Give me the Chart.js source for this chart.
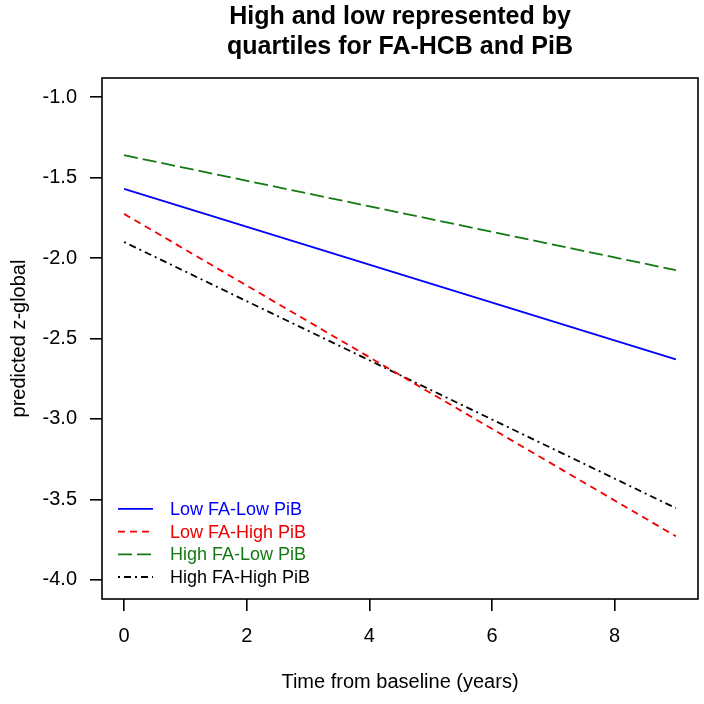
<!DOCTYPE html>
<html>
<head>
<meta charset="utf-8">
<script src="https://cdn.jsdelivr.net/npm/chart.js@4.4.1/dist/chart.umd.min.js"></script>
<style>
  html, body { margin: 0; padding: 0; background: #fff; }
  #wrap { width: 704px; height: 704px; }
</style>
</head>
<body>
<div id="wrap"><canvas id="myChart" width="704" height="704"></canvas></div>
<script>
// time points (years from baseline)
var years = [0, 9];

// predicted z-global at start and end of follow-up
var lowFaLowPib   = [-1.57, -2.63];
var lowFaHighPib  = [-1.725, -3.73];
var highFaLowPib  = [-1.36, -2.075];
var highFaHighPib = [-1.90, -3.555];

var seriesNames = ['Low FA-Low PiB', 'Low FA-High PiB', 'High FA-Low PiB', 'High FA-High PiB'];

var xTicks = [0, 2, 4, 6, 8];
var yTicks = [-1.0, -1.5, -2.0, -2.5, -3.0, -3.5, -4.0];

var FONT = "'Liberation Sans', Arial, Helvetica, sans-serif";

function toPoints(vals) {
	return years.map(function (t, i) { return { x: t, y: vals[i] }; });
}

function makeSet(name, vals, color, dash) {
	return {
		label: name,
		data: toPoints(vals),
		borderColor: color,
		backgroundColor: color,
		borderWidth: 1.8,
		borderDash: dash,
		pointRadius: 0,
		fill: false,
		tension: 0
	};
}

// R style box round the plot region
var boxPlugin = {
	id: 'plotBox',
	afterDatasetsDraw: function (chart) {
		var a = chart.chartArea, ctx = chart.ctx;
		ctx.save();
		ctx.strokeStyle = '#000';
		ctx.lineWidth = 1.6;
		ctx.strokeRect(a.left, a.top, a.right - a.left, a.bottom - a.top);
		ctx.restore();
	}
};

// legend inside the plot, bottom left, no frame, coloured text
var insetLegend = {
	id: 'insetLegend',
	afterDraw: function (chart) {
		var a = chart.chartArea, ctx = chart.ctx;
		var sets = chart.data.datasets;
		var rowH = 22.7;
		ctx.save();
		ctx.font = '18px ' + FONT;
		ctx.textBaseline = 'middle';
		ctx.textAlign = 'left';
		sets.forEach(function (ds, i) {
			var y = a.bottom - 22 - (sets.length - 1 - i) * rowH;
			ctx.beginPath();
			ctx.setLineDash(ds.borderDash || []);
			ctx.strokeStyle = ds.borderColor;
			ctx.lineWidth = ds.borderWidth;
			ctx.moveTo(a.left + 16, y);
			ctx.lineTo(a.left + 51, y);
			ctx.stroke();
			ctx.setLineDash([]);
			ctx.fillStyle = ds.borderColor;
			ctx.fillText(ds.label, a.left + 68, y + 1);
		});
		ctx.restore();
	}
};

const config = {
	type: 'line',
	data: {
		datasets: [
			makeSet(seriesNames[0], lowFaLowPib, '#0000ff', []),
			makeSet(seriesNames[1], lowFaHighPib, '#ee0000', [7, 5]),
			makeSet(seriesNames[2], highFaLowPib, '#137a13', [14, 5]),
			makeSet(seriesNames[3], highFaHighPib, '#000000', [2, 4, 7, 4])
		]
	},
	options: {
		responsive: false,
		animation: false,
		layout: { padding: { left: 0, right: 6, top: 0, bottom: 0 } },
		scales: {
			x: {
				type: 'linear',
				min: -0.36,
				max: 9.36,
				afterBuildTicks: function (s) { s.ticks = xTicks.map(function (v) { return { value: v }; }); },
				afterFit: function (s) { s.height = 105; },
				border: { display: false },
				grid: { drawOnChartArea: false, drawTicks: true, tickLength: 12, color: '#000', lineWidth: 1.6 },
				ticks: { color: '#000', font: { family: FONT, size: 20 }, padding: 13, maxRotation: 0 },
				title: {
					display: true,
					text: 'Time from baseline (years)',
					color: '#000',
					font: { family: FONT, size: 20 },
					padding: { top: 0, bottom: 10 }
				}
			},
			y: {
				type: 'linear',
				min: -4.12,
				max: -0.88,
				afterBuildTicks: function (s) { s.ticks = yTicks.map(function (v) { return { value: v }; }); },
				afterFit: function (s) { s.width = 102; },
				border: { display: false },
				grid: { drawOnChartArea: false, drawTicks: true, tickLength: 12, color: '#000', lineWidth: 1.6 },
				ticks: {
					color: '#000',
					font: { family: FONT, size: 20 },
					padding: 13,
					callback: function (v) { return v.toFixed(1); }
				},
				title: {
					display: true,
					text: 'predicted z-global',
					color: '#000',
					font: { family: FONT, size: 20 },
					padding: { top: 7, bottom: 0 }
				}
			}
		},
		plugins: {
			legend: { display: false },
			tooltip: { enabled: false },
			title: {
				display: true,
				fullSize: false,
				text: ['High and low represented by', 'quartiles for FA-HCB and PiB'],
				color: '#000',
				font: { family: FONT, size: 25, weight: 'bold', lineHeight: 1.2 },
				padding: { top: 2, bottom: 16 }
			}
		}
	},
	plugins: [boxPlugin, insetLegend]
};

new Chart(document.getElementById('myChart'), config);
</script>
</body>
</html>
